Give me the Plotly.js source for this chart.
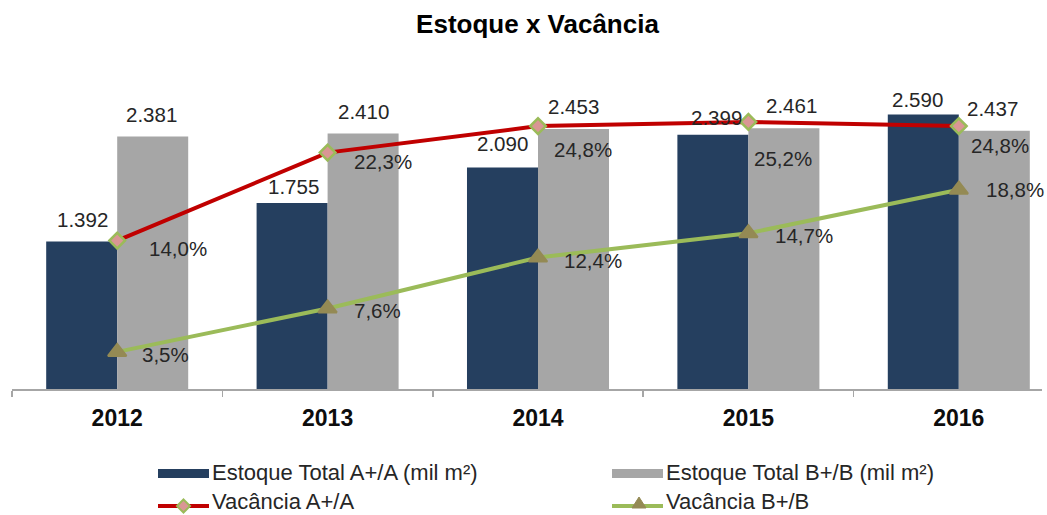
<!DOCTYPE html>
<html>
<head>
<meta charset="utf-8">
<script src="https://cdn.plot.ly/plotly-3.0.1.min.js"></script>
<style>html,body{margin:0;padding:0;background:#fff;}#chart{width:1047px;height:515px;}</style>
</head>
<body>
<div id="chart"></div>
<script>
// ---- data ----
const years = ['2012', '2013', '2014', '2015', '2016'];
const estoqueA = [1392, 1755, 2090, 2399, 2590];   // mil m²
const estoqueB = [2381, 2410, 2453, 2461, 2437];   // mil m²
const vacanciaA = [14.0, 22.3, 24.8, 25.2, 24.8];  // %
const vacanciaB = [3.5, 7.6, 12.4, 14.7, 18.8];    // %
const seriesNames = ['Estoque Total A+/A (mil m²)', 'Estoque Total B+/B (mil m²)', 'Vacância A+/A', 'Vacância B+/B'];

// ---- styles ----
const C_A = '#253F5F', C_B = '#A6A6A6', C_RED = '#C00000', C_GREEN = '#9BBB59', C_TRI = '#948A54', C_DIA = '#D99694';
const TXT = '#262626';
const FONT = 'Liberation Sans, Arial, sans-serif';
const W = 1047, H = 515, ML = 12, MR = 5, MT = 71, MB = 126;
const PW = W - ML - MR, PH = H - MT - MB;
const BARW = 71;
// label placement tweaks (pixels): [dx, dy above/below]
const labA = [[0.5, 22], [1, 16], [0, 24], [3.5, 17.6], [-5.5, 14.5]];
const labB = [[-1, 22.5], [0.5, 22.5], [0, 22.5], [7.5, 22.5], [-1.5, 22.5]];
const labVA = [[60.5, 7.5], [55, 9], [45, 23.5], [35, 36.5], [41, 19]];
const labVB = [[48.5, 3], [50, 2], [55, 2.5], [56, 2], [56, 0]];

const fmtK = v => Math.floor(v / 1000) + '.' + String(v % 1000).padStart(3, '0');
const fmtP = v => v.toFixed(1).replace('.', ',') + '%';

const traces = [
  {type: 'bar', x: years, y: estoqueA, name: seriesNames[0], marker: {color: C_A}, yaxis: 'y', hoverinfo: 'skip'},
  {type: 'bar', x: years, y: estoqueB, name: seriesNames[1], marker: {color: C_B}, yaxis: 'y', hoverinfo: 'skip'},
  {type: 'scatter', mode: 'lines+markers', x: years, y: vacanciaA, name: seriesNames[2], yaxis: 'y2',
   line: {color: C_RED, width: 4}, marker: {symbol: 'diamond', size: 12, color: C_DIA, line: {color: C_GREEN, width: 2.5}}, hoverinfo: 'skip'},
  {type: 'scatter', mode: 'lines+markers', x: years, y: vacanciaB, name: seriesNames[3], yaxis: 'y2',
   line: {color: C_GREEN, width: 4}, marker: {symbol: 'triangle-up', size: 16, color: C_TRI, line: {color: C_TRI, width: 2}}, hoverinfo: 'skip'}
];

const annotations = [];
const lf = {family: FONT, size: 20.5, color: TXT};
years.forEach((yr, i) => {
  annotations.push({x: i, y: estoqueA[i], xref: 'x', yref: 'y', text: fmtK(estoqueA[i]), showarrow: false,
    xanchor: 'center', yanchor: 'middle', xshift: -BARW / 2 + labA[i][0], yshift: labA[i][1], font: lf});
  annotations.push({x: i, y: estoqueB[i], xref: 'x', yref: 'y', text: fmtK(estoqueB[i]), showarrow: false,
    xanchor: 'center', yanchor: 'middle', xshift: BARW / 2 + labB[i][0], yshift: labB[i][1], font: lf});
  annotations.push({x: i, y: vacanciaA[i], xref: 'x', yref: 'y2', text: fmtP(vacanciaA[i]), showarrow: false,
    xanchor: 'center', yanchor: 'middle', xshift: labVA[i][0], yshift: -labVA[i][1], font: lf});
  annotations.push({x: i, y: vacanciaB[i], xref: 'x', yref: 'y2', text: fmtP(vacanciaB[i]), showarrow: false,
    xanchor: 'center', yanchor: 'middle', xshift: labVB[i][0], yshift: -labVB[i][1], font: lf});
});

// ---- custom legend (pixel -> paper) ----
const px = x => (x - ML) / PW;
const py = y => (H - MB - y) / PH;
const shapes = [];
const legFont = {family: FONT, size: 22, color: TXT};
function rectSym(x0, x1, y0, y1, color) {
  shapes.push({type: 'rect', xref: 'paper', yref: 'paper', x0: px(x0), x1: px(x1), y0: py(y1), y1: py(y0), fillcolor: color, line: {width: 0}});
}
function lineSym(x0, x1, y, color) {
  shapes.push({type: 'line', xref: 'paper', yref: 'paper', x0: px(x0), x1: px(x1), y0: py(y), y1: py(y), line: {color: color, width: 4}});
}
function pathSym(pts, fill, lc, lw) {
  const d = pts.map((p, k) => (k ? 'L' : 'M') + px(p[0]) + ',' + py(p[1])).join(' ') + ' Z';
  shapes.push({type: 'path', xref: 'paper', yref: 'paper', path: d, fillcolor: fill, line: {color: lc, width: lw}});
}
function legText(x, y, t) {
  annotations.push({x: px(x), y: py(y), xref: 'paper', yref: 'paper', text: t, showarrow: false, xanchor: 'left', yanchor: 'middle', borderpad: 0, font: legFont});
}
rectSym(158, 209, 469, 478, C_A); legText(211, 472.5, seriesNames[0]);
rectSym(612, 663, 469, 478, C_B); legText(665, 472.5, seriesNames[1]);
lineSym(158, 209, 506, C_RED);
pathSym([[183.5, 499.5], [190, 506], [183.5, 512.5], [177, 506]], C_DIA, C_GREEN, 2);
legText(211, 501, seriesNames[2]);
lineSym(612, 663, 506, C_GREEN);
pathSym([[639, 497], [646, 508], [632, 508]], C_TRI, C_TRI, 1);
legText(665, 501, seriesNames[3]);

const hiddenAxis = {showgrid: false, zeroline: false, showline: false, showticklabels: false, ticks: '', fixedrange: true};

const layout = {
  width: W, height: H,
  margin: {l: ML, r: MR, t: MT, b: MB, pad: 0},
  paper_bgcolor: '#fff', plot_bgcolor: '#fff',
  showlegend: false,
  barmode: 'group', bargap: 0.325, bargroupgap: 0,
  title: {text: '<b>Estoque x Vacância</b>', x: 537.5 / W, xref: 'container', xanchor: 'center',
          y: 1 - 24 / H, yref: 'container', yanchor: 'middle', font: {family: FONT, size: 26, color: '#000'}},
  xaxis: {type: 'category', range: [-0.5, -0.5 + PW / 210.4], showgrid: false, zeroline: false,
          showline: true, linecolor: '#A6A6A6', linewidth: 1.5, ticks: 'outside', tickson: 'boundaries',
          ticklen: 6, tickcolor: '#A6A6A6', tickwidth: 1.5, ticklabelstandoff: 8,
          tickfont: {family: FONT, size: 23, color: '#0d0d0d', weight: 'bold'}, fixedrange: true},
  yaxis: Object.assign({range: [0, 3000]}, hiddenAxis),
  yaxis2: Object.assign({range: [0, 30], overlaying: 'y'}, hiddenAxis),
  annotations: annotations,
  shapes: shapes
};

Plotly.newPlot('chart', traces, layout, {staticPlot: true, displayModeBar: false});
</script>
</body>
</html>
